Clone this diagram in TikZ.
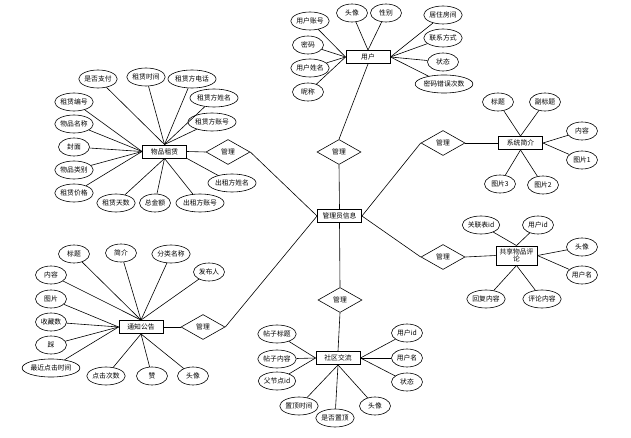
\documentclass[tikz,border=0pt]{standalone}
\usepackage{fontspec}
\newfontfamily\cjk{Noto Sans CJK SC}
\usetikzlibrary{shapes.geometric,calc}
\begin{document}
\begin{tikzpicture}[x=1pt,y=-1pt,
  every node/.style={font=\cjk\fontsize{6.8}{7.5}\selectfont},
  attr/.style={ellipse,draw,line width=0.6pt,minimum height=18pt,minimum width=31pt,inner sep=0pt},
  ent/.style={rectangle,draw,line width=0.9pt,minimum width=44pt,minimum height=13pt,inner sep=1pt},
  rel/.style={diamond,draw,line width=0.6pt,minimum width=44pt,minimum height=25pt,inner sep=0pt},
  link/.style={draw,line width=0.6pt}]
\useasboundingbox (0,0) rectangle (631,438);
\fill[white] (0,0) rectangle (631,438);

% central
\node[ent] (c) at (339.5,216) {管理员信息};

% user
\node[ent] (u) at (368,57) {用户};
\node[rel] (du) at (339,152) {管理};
\node[attr] (u1) at (352,13) {头像};
\node[attr] (u2) at (386,13) {性别};
\node[attr] (u3) at (310,21) {用户账号};
\node[attr] (u4) at (308,45) {密码};
\node[attr] (u5) at (310,68) {用户姓名};
\node[attr] (u6) at (308,92) {昵称};
\node[attr] (u7) at (443,15) {居住房间};
\node[attr] (u8) at (443,38) {联系方式};
\node[attr] (u9) at (443,62) {状态};
\node[attr] (u10) at (444,84) {密码错误次数};
\foreach \a in {u3,u4,u5,u6} \draw[link] (\a) -- (u.west);
\foreach \a in {u1,u2} \draw[link] (\a) -- (u.north);
\foreach \a in {u7,u8,u9,u10} \draw[link] (\a) -- (u.east);
\draw[link] (u.south) -- (du.north);
\draw[link] (du.south) -- (c.north);

% rental
\node[ent] (r) at (164.5,151.5) {物品租赁};
\node[rel] (dr) at (228,152) {管理};
\node[attr] (r1) at (98,79) {是否支付};
\node[attr] (r2) at (146,77) {租赁时间};
\node[attr] (r3) at (192,79) {租赁方电话};
\node[attr] (r4) at (214,98) {租赁方姓名};
\node[attr] (r5) at (212,122) {租赁方账号};
\node[attr] (r6) at (74,102) {租赁编号};
\node[attr] (r7) at (74,124) {物品名称};
\node[attr] (r8) at (74,147) {封面};
\node[attr] (r9) at (74,170) {物品类别};
\node[attr] (r10) at (74,193) {租赁价格};
\node[attr] (r11) at (116,203) {租赁天数};
\node[attr] (r12) at (155,203) {总金额};
\node[attr] (r13) at (200,203) {出租方账号};
\node[attr] (r14) at (232,183) {出租方姓名};
\foreach \a in {r1,r2,r3,r4,r5} \draw[link] (\a) -- (r.north);
\foreach \a in {r6,r7,r8,r9,r10} \draw[link] (\a) -- (r.west);
\foreach \a in {r11,r12,r13} \draw[link] (\a) -- (r.south);
\draw[link] (r14) -- (r.south east);
\draw[link] (r.east) -- (dr.west);
\draw[link] (dr.east) -- (c.west);

% system intro
\node[ent] (s) at (520.5,143) {系统简介};
\node[rel] (ds) at (443,143) {管理};
\node[attr] (s1) at (498,102) {标题};
\node[attr] (s2) at (545,102) {副标题};
\node[attr] (s3) at (582,131) {内容};
\node[attr] (s4) at (582,160) {图片1};
\node[attr] (s5) at (500,184) {图片3};
\node[attr] (s6) at (543,185) {图片2};
\foreach \a in {s1,s2} \draw[link] (\a) -- (s.north);
\foreach \a in {s3,s4} \draw[link] (\a) -- (s.east);
\foreach \a in {s5,s6} \draw[link] (\a) -- (s.south);
\draw[link] (ds.east) -- (s.west);
\draw[link] (c.east) -- (ds.west);

% comments
\node[ent,minimum width=41pt,minimum height=19pt,align=center,font=\cjk\fontsize{6.8}{7.2}\selectfont] (p) at (516.5,255.5) {共享物品评\\论};
\node[rel] (dp) at (443,257) {管理};
\node[attr] (p1) at (481,225) {关联表id};
\node[attr] (p2) at (538,225) {用户id};
\node[attr] (p3) at (582,247) {头像};
\node[attr] (p4) at (582,275) {用户名};
\node[attr] (p5) at (486,299) {回复内容};
\node[attr] (p6) at (542,299) {评论内容};
\foreach \a in {p1,p2} \draw[link] (\a) -- (p.north);
\foreach \a in {p3,p4} \draw[link] (\a) -- (p.east);
\foreach \a in {p5,p6} \draw[link] (\a) -- (p.south);
\draw[link] (dp.east) -- (p.west);
\draw[link] (c.east) -- (dp.west);

% notices
\node[ent] (n) at (141,327) {通知公告};
\node[rel] (dn) at (203,327) {管理};
\node[attr] (n1) at (74,254) {标题};
\node[attr] (n2) at (121,253) {简介};
\node[attr] (n3) at (171,254) {分类名称};
\node[attr] (n4) at (209,272) {发布人};
\node[attr] (n5) at (51,275) {内容};
\node[attr] (n6) at (51,299) {图片};
\node[attr] (n7) at (51,322) {收藏数};
\node[attr] (n8) at (51,345) {踩};
\node[attr] (n9) at (51,368) {最近点击时间};
\node[attr] (n10) at (106,376) {点击次数};
\node[attr] (n11) at (152,376) {赞};
\node[attr] (n12) at (193,376) {头像};
\foreach \a in {n1,n2,n3,n4,n5} \draw[link] (\a) -- (n.north);
\foreach \a in {n6,n7,n8,n9} \draw[link] (\a) -- (n.west);
\foreach \a in {n10,n11,n12} \draw[link] (\a) -- (n.south);
\draw[link] (n.east) -- (dn.west);
\draw[link] (dn.east) -- (c.west);

% community
\node[ent] (m) at (338,358) {社区交流};
\node[rel] (dm) at (340,300) {管理};
\node[attr] (m1) at (277,334) {帖子标题};
\node[attr] (m2) at (277,359) {帖子内容};
\node[attr] (m3) at (277,381) {父节点id};
\node[attr] (m4) at (299,406) {置顶时间};
\node[attr] (m5) at (335,418) {是否置顶};
\node[attr] (m6) at (375,406) {头像};
\node[attr] (m7) at (407,333) {用户id};
\node[attr] (m8) at (407,358) {用户名};
\node[attr] (m9) at (407,382) {状态};
\foreach \a in {m1,m2,m3} \draw[link] (\a) -- (m.west);
\foreach \a in {m4,m5,m6} \draw[link] (\a) -- (m.south);
\foreach \a in {m7,m8,m9} \draw[link] (\a) -- (m.east);
\draw[link] (dm.south) -- (m.north);
\draw[link] (c.south) -- (dm.north);
\end{tikzpicture}
\end{document}
